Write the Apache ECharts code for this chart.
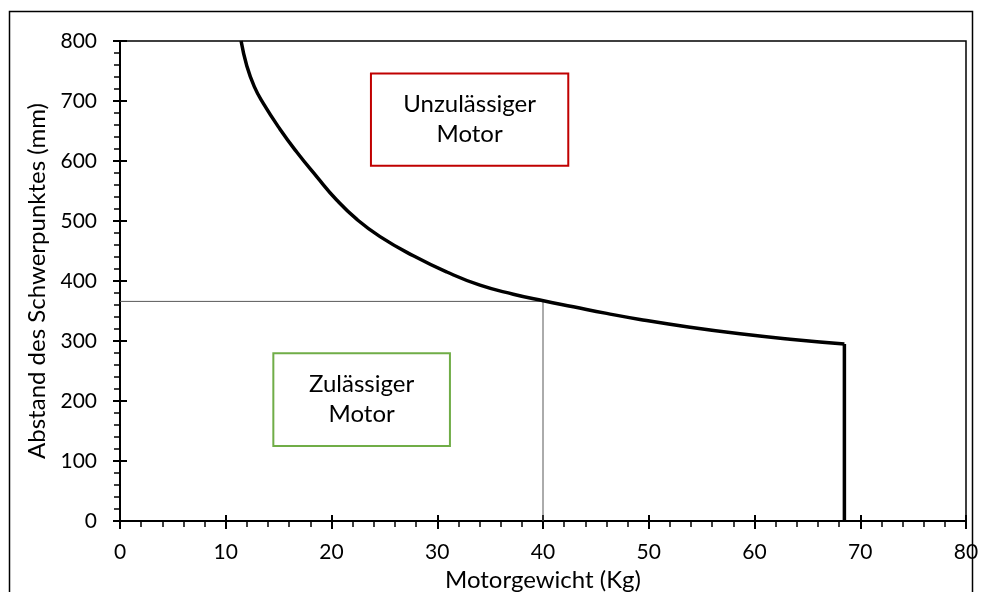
<!DOCTYPE html>
<html>
<head>
<meta charset="utf-8">
<script src="https://cdn.jsdelivr.net/npm/echarts@6/dist/echarts.min.js"></script>
<style>
  html, body { margin: 0; padding: 0; background: #fff; }
  #chart { width: 982px; height: 592px; }
</style>
</head>
<body>
<div id="chart"></div>
<script>
// Grenzkurve: Motorgewicht (kg) gegen zulässigen Schwerpunktabstand (mm)
const curveWeight = [11.45, 12.0, 12.7, 13.55, 15.13, 16.71, 18.6, 20.49, 22.38, 24.59, 27.74, 30.9, 34.04, 37.19, 40.03, 42.87, 46.02, 49.17, 53.9, 58.63, 63.36, 68.5];
const curveDistance = [800, 758, 724, 696, 653, 615, 574, 535, 503, 474, 442, 415, 393, 378, 367, 357, 346, 336, 323, 312, 303, 295];
// senkrechter Abschluss bei maximalem Motorgewicht
const limitWeight = [68.5, 68.5];
const limitDistance = [295, 0];
// Ablesehilfe für einen 40-kg-Motor
const guideWeight = [0, 40, 40];
const guideDistance = [366, 366, 0];
// Beschriftete Bereiche [x1, x2, y1, y2]
const zoneForbidden = { name: 'Unzulässiger\nMotor', x: [23.73, 42.39], y: [592, 746] };
const zoneAllowed = { name: 'Zulässiger\nMotor', x: [14.5, 31.2], y: [125, 279.5] };
const xTicks = { min: 0, max: 80, step: 10 };
const yTicks = { min: 0, max: 800, step: 100 };

const zip = (a, b) => a.map((v, i) => [v, b[i]]);
const FONT = 'Lato, "Open Sans", "Liberation Sans", sans-serif';
const TXT = '#000';

const chart = echarts.init(document.getElementById('chart'), null, { renderer: 'canvas' });

const zoneArea = (z, color) => ({
  type: 'line',
  data: [],
  silent: true,
  markArea: {
    silent: true,
    itemStyle: { color: 'rgba(255,255,255,1)', borderColor: color, borderWidth: 2 },
    label: {
      show: true, position: 'inside', color: TXT, fontFamily: FONT,
      fontSize: 24, lineHeight: 30
    },
    data: [[
      { name: z.name, coord: [z.x[0], z.y[1]] },
      { coord: [z.x[1], z.y[0]] }
    ]]
  }
});

chart.setOption({
  animation: false,
  backgroundColor: '#fff',
  grid: {
    left: 120, right: 16, top: 41, bottom: 71,
    containLabel: false, outerBoundsMode: 'none',
    show: true, borderColor: '#000', borderWidth: 1.5
  },
  graphic: [{
    type: 'rect', silent: true, z: -10,
    shape: { x: 9.5, y: 11.5, width: 963, height: 600 },
    style: { fill: 'none', stroke: '#000', lineWidth: 1.5 }
  }],
  xAxis: [{
    type: 'value', min: xTicks.min, max: xTicks.max, interval: xTicks.step,
    position: 'bottom',
    name: 'Motorgewicht (Kg)', nameLocation: 'middle', nameGap: 42,
    nameTextStyle: { color: TXT, fontFamily: FONT, fontSize: 24 },
    axisLine: { show: true, lineStyle: { color: '#000', width: 2 } },
    axisTick: { show: true, inside: false, length: 8, lineStyle: { color: '#000', width: 2 } },
    minorTick: { show: true, splitNumber: 5, length: 6, lineStyle: { color: '#000', width: 1.5 } },
    axisLabel: { color: TXT, fontFamily: FONT, fontSize: 21, margin: 21 },
    splitLine: { show: false }
  }, {
    type: 'value', min: xTicks.min, max: xTicks.max, interval: xTicks.step,
    position: 'bottom',
    axisLine: { show: false },
    axisTick: { show: true, inside: true, length: 6, lineStyle: { color: '#000', width: 2 } },
    axisLabel: { show: false },
    splitLine: { show: false }
  }],
  yAxis: [{
    type: 'value', min: yTicks.min, max: yTicks.max, interval: yTicks.step,
    position: 'left',
    name: 'Abstand des Schwerpunktes (mm)', nameLocation: 'middle', nameGap: 69,
    nameTextStyle: { color: TXT, fontFamily: FONT, fontSize: 24 },
    axisLine: { show: true, lineStyle: { color: '#000', width: 2 } },
    axisTick: { show: true, inside: false, length: 7, lineStyle: { color: '#000', width: 2 } },
    minorTick: { show: true, splitNumber: 5, length: 6, lineStyle: { color: '#000', width: 1.5 } },
    axisLabel: { color: TXT, fontFamily: FONT, fontSize: 21, margin: 23 },
    splitLine: { show: false }
  }, {
    type: 'value', min: yTicks.min, max: yTicks.max, interval: yTicks.step,
    position: 'left',
    axisLine: { show: false },
    axisTick: { show: true, inside: true, length: 7, lineStyle: { color: '#000', width: 2 } },
    axisLabel: { show: false },
    splitLine: { show: false }
  }],
  series: [
    zoneArea(zoneForbidden, '#C00000'),
    zoneArea(zoneAllowed, '#70AD47'),
    {
      type: 'line', name: 'guide', data: zip(guideWeight, guideDistance),
      symbol: 'none', silent: true, z: 3,
      lineStyle: { color: '#595959', width: 1 }
    },
    {
      type: 'line', name: 'limit', data: zip(curveWeight, curveDistance),
      symbol: 'none', smooth: 0.5, z: 5,
      lineStyle: { color: '#000', width: 3.5 }
    },
    {
      type: 'line', name: 'limitMax', data: zip(limitWeight, limitDistance),
      symbol: 'none', z: 5,
      lineStyle: { color: '#000', width: 3.5 }
    }
  ]
});
</script>
</body>
</html>
